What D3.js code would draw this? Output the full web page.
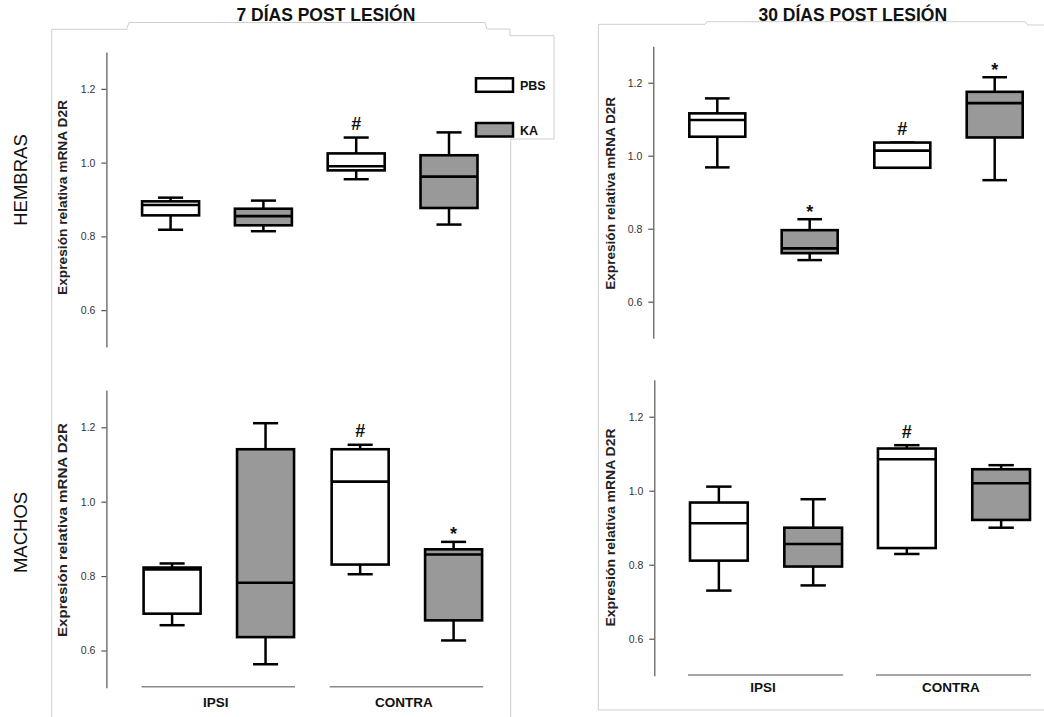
<!DOCTYPE html>
<html><head><meta charset="utf-8">
<script src="https://cdn.jsdelivr.net/npm/d3@7"></script>
<style>
body{margin:0;background:#fff}
svg{display:block}
text{font-family:"Liberation Sans",Arial,Helvetica,sans-serif}
</style>
</head><body>
<svg id="chart" width="1044" height="717"></svg>
<script>
// ---------- DATA ----------
const sides = ["IPSI", "CONTRA"];
const treatments = ["PBS", "KA"];
const yTicks = [0.6, 0.8, 1.0, 1.2];
const yDomain = [0.5, 1.3];
const columnTitles = ["7 DÍAS POST LESIÓN", "30 DÍAS POST LESIÓN"];
const rowTitles = ["HEMBRAS", "MACHOS"];
const yAxisTitle = "Expresión relativa mRNA D2R";

// box stats: [low whisker, Q1, median, Q3, high whisker]
// order: IPSI-PBS, IPSI-KA, CONTRA-PBS, CONTRA-KA
const hembras7 = [
  [0.818, 0.857, 0.885, 0.895, 0.905],
  [0.814, 0.830, 0.855, 0.875, 0.897],
  [0.955, 0.979, 0.990, 1.025, 1.068],
  [0.832, 0.877, 0.962, 1.020, 1.082]
];
const machos7 = [
  [0.668, 0.699, 0.818, 0.823, 0.834],
  [0.563, 0.636, 0.782, 1.141, 1.211],
  [0.805, 0.831, 1.054, 1.141, 1.153],
  [0.627, 0.681, 0.858, 0.872, 0.892]
];
const hembras30 = [
  [0.968, 1.052, 1.098, 1.116, 1.157],
  [0.714, 0.733, 0.746, 0.796, 0.826],
  [0.967, 0.967, 1.014, 1.036, 1.036],
  [0.933, 1.050, 1.144, 1.175, 1.215]
];
const machos30 = [
  [0.730, 0.811, 0.912, 0.968, 1.011],
  [0.744, 0.795, 0.856, 0.900, 0.977],
  [0.829, 0.845, 1.085, 1.114, 1.123],
  [0.900, 0.921, 1.020, 1.058, 1.069]
];
const hembras7Marks = ["", "", "#", ""];
const machos7Marks = ["", "", "#", "*"];
const hembras30Marks = ["", "*", "#", "*"];
const machos30Marks = ["", "", "#", ""];

// ---------- LAYOUT ----------
const fillOf = {PBS: "#ffffff", KA: "#999999"};
const panels = [
  {data: hembras7, marks: hembras7Marks, xr: [142.1, 477.5], pi: 0.193, pj: 0.386, yr: [347, 52],
   ax: 106.4, tx: 62.5, tl: 195, ty: 197.5, groups: null},
  {data: machos7, marks: machos7Marks, xr: [143.6, 482.1], pi: 0.2, pj: 0.39, yr: [687.7, 390.1],
   ax: 106.4, tx: 62.5, tl: 214, ty: 530, groups: {lineY: 686.7, labelY: 706.7}},
  {data: hembras30, marks: hembras30Marks, xr: [689.3, 1022.7], pi: 0.198, pj: 0.394, yr: [338.2, 46.2],
   ax: 653.3, tx: 610.5, tl: 193, ty: 193.3, groups: null},
  {data: machos30, marks: machos30Marks, xr: [690, 1030], pi: 0.191, pj: 0.388, yr: [675.7, 379.7],
   ax: 654.3, tx: 610.5, tl: 198, ty: 527.5, groups: {lineY: 675, labelY: 692.3}}
];

const svg = d3.select("#chart");

// faint scan frames
svg.append("path")
  .attr("d", "M51.7,717 V29.3 H126.7 L129,22.5 H485 L487,29 H510 V35.7 H554 V139 H510.7 V717")
  .attr("fill", "none").attr("stroke", "#cfcfcf").attr("stroke-width", 1);
svg.append("path")
  .attr("d", "M1044,25 H1028 L1025,21.7 H707 L705,24.3 H598.3 V710 H1044")
  .attr("fill", "none").attr("stroke", "#cfcfcf").attr("stroke-width", 1);

// column titles
[325.9, 852.8].forEach((cx, i) => {
  svg.append("text").attr("x", cx).attr("y", 21).attr("text-anchor", "middle")
    .attr("font-size", 17.5).attr("font-weight", "bold").attr("fill", "#111")
    .text(columnTitles[i]);
});
// row titles
[180, 532.5].forEach((cy, i) => {
  svg.append("text").attr("transform", `translate(26.5,${cy}) rotate(-90)`)
    .attr("text-anchor", "middle").attr("font-size", 18.5).attr("fill", "#111")
    .text(rowTitles[i]);
});

panels.forEach(p => {
  const g = svg.append("g");
  const y = d3.scaleLinear().domain(yDomain).range(p.yr);
  const outer = d3.scaleBand().domain(sides).range(p.xr).paddingInner(p.pi).paddingOuter(0);
  const inner = d3.scaleBand().domain(treatments).range([0, outer.bandwidth()]).paddingInner(p.pj).paddingOuter(0);

  // y axis
  const axis = d3.axisLeft(y).tickValues(yTicks).tickFormat(d3.format(".1f"))
    .tickSizeInner(5).tickSizeOuter(0).tickPadding(6);
  const ag = g.append("g").attr("transform", `translate(${p.ax},0)`).call(axis);
  ag.select(".domain").attr("stroke", "#555").attr("stroke-width", 1.2);
  ag.selectAll(".tick line").attr("stroke", "#555").attr("stroke-width", 1.2);
  ag.selectAll(".tick text").attr("font-size", 10.5).attr("fill", "#333")
    .attr("font-family", '"Liberation Sans",Arial,sans-serif');

  // y title
  g.append("text").attr("transform", `translate(${p.tx},${p.ty}) rotate(-90)`)
    .attr("text-anchor", "middle").attr("dy", "0.35em")
    .attr("font-size", 13).attr("font-weight", "bold").attr("fill", "#222")
    .attr("textLength", p.tl).attr("lengthAdjust", "spacingAndGlyphs")
    .text(yAxisTitle);

  // boxes
  const items = [];
  sides.forEach((s, si) => treatments.forEach((t, ti) => {
    items.push({side: s, treat: t, stats: p.data[si * 2 + ti], mark: p.marks[si * 2 + ti]});
  }));
  const bw = inner.bandwidth();
  const capW = bw * 0.44;
  const bg = g.selectAll("g.box").data(items).join("g").attr("class", "box")
    .attr("transform", d => `translate(${outer(d.side) + inner(d.treat)},0)`);
  // whiskers
  bg.append("line").attr("x1", bw / 2).attr("x2", bw / 2)
    .attr("y1", d => y(d.stats[0])).attr("y2", d => y(d.stats[1]))
    .attr("stroke", "#000").attr("stroke-width", 2.5);
  bg.append("line").attr("x1", bw / 2).attr("x2", bw / 2)
    .attr("y1", d => y(d.stats[3])).attr("y2", d => y(d.stats[4]))
    .attr("stroke", "#000").attr("stroke-width", 2.5);
  bg.append("line").attr("x1", bw / 2 - capW / 2).attr("x2", bw / 2 + capW / 2)
    .attr("y1", d => y(d.stats[0])).attr("y2", d => y(d.stats[0]))
    .attr("stroke", "#000").attr("stroke-width", 2.5);
  bg.append("line").attr("x1", bw / 2 - capW / 2).attr("x2", bw / 2 + capW / 2)
    .attr("y1", d => y(d.stats[4])).attr("y2", d => y(d.stats[4]))
    .attr("stroke", "#000").attr("stroke-width", 2.5);
  bg.append("rect").attr("x", 0).attr("width", bw)
    .attr("y", d => y(d.stats[3])).attr("height", d => y(d.stats[1]) - y(d.stats[3]))
    .attr("fill", d => fillOf[d.treat]).attr("stroke", "#000").attr("stroke-width", 2.6);
  bg.append("line").attr("x1", 0).attr("x2", bw)
    .attr("y1", d => y(d.stats[2])).attr("y2", d => y(d.stats[2]))
    .attr("stroke", "#000").attr("stroke-width", 2.6);
  // significance marks
  bg.filter(d => d.mark).append("text")
    .attr("x", bw / 2).attr("text-anchor", "middle")
    .attr("y", d => y(d.stats[4]) - (d.mark === "#" ? 7.5 : 1.5))
    .attr("font-size", 18).attr("font-weight", "bold").attr("fill", "#111")
    .text(d => d.mark);

  // group lines + labels
  if (p.groups) {
    sides.forEach(s => {
      g.append("line").attr("x1", outer(s) - 2).attr("x2", outer(s) + outer.bandwidth() + 1)
        .attr("y1", p.groups.lineY).attr("y2", p.groups.lineY)
        .attr("stroke", "#8a8a8a").attr("stroke-width", 1.6);
      g.append("text").attr("x", outer(s) + outer.bandwidth() / 2 - 3).attr("y", p.groups.labelY)
        .attr("text-anchor", "middle").attr("font-size", 13.5).attr("font-weight", "bold")
        .attr("fill", "#111").text(s);
    });
  }
});

// legend
const legend = svg.append("g");
const legendY = d3.scaleBand().domain(treatments).range([78.3, 123]).paddingInner(1.2);
treatments.forEach(t => {
  legend.append("rect").attr("x", 476).attr("y", legendY(t)).attr("width", 37).attr("height", 13.5)
    .attr("fill", fillOf[t]).attr("stroke", "#000").attr("stroke-width", 2.5);
  legend.append("text").attr("x", 520).attr("y", legendY(t) + 12)
    .attr("font-size", 12.5).attr("font-weight", "bold").attr("fill", "#111").text(t);
});
</script>
</body></html>
